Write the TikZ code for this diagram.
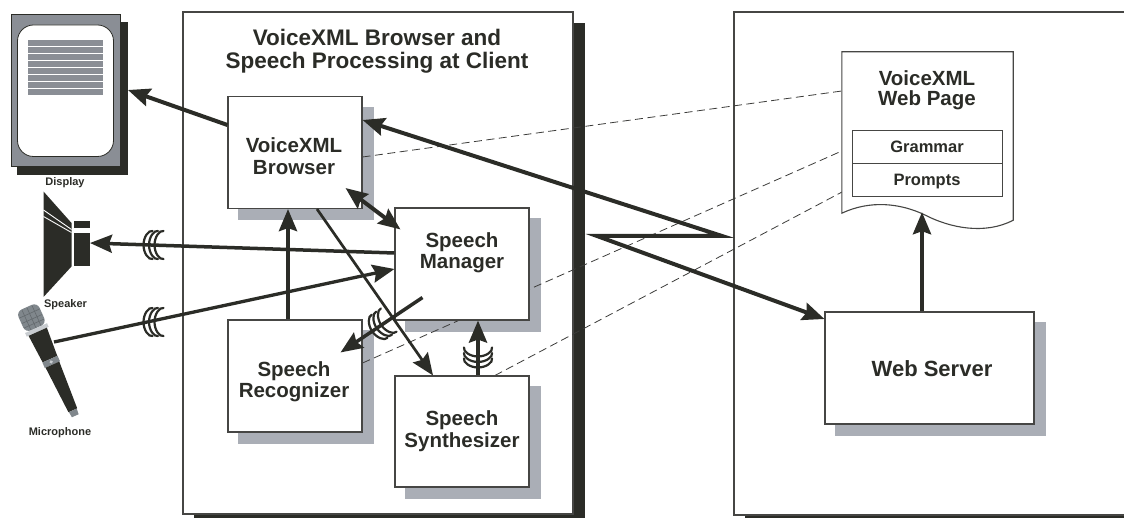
\documentclass[tikz,border=0pt]{standalone}
\usepackage{fontspec}
\setmainfont{Liberation Sans}
\usetikzlibrary{arrows.meta,calc}

\definecolor{ink}{RGB}{43,44,39}
\definecolor{rim}{RGB}{70,70,68}
\definecolor{boxshadow}{RGB}{170,174,182}
\definecolor{panel}{RGB}{138,142,149}
\definecolor{dashc}{RGB}{60,60,58}
\definecolor{micgray}{RGB}{128,135,140}
\definecolor{micgrid}{RGB}{100,106,110}
\definecolor{miclight}{RGB}{200,204,208}

\pgfdeclarelayer{back}
\pgfdeclarelayer{shadows}
\pgfdeclarelayer{dashes}
\pgfsetlayers{back,shadows,dashes,main}

% gray drop shadow behind a box node
\newcommand\castshadow[1]{%
  \begin{pgfonlayer}{shadows}
    \fill[boxshadow] ($(#1.south west)+(11,11)$) rectangle ($(#1.north east)+(11,11)$);
  \end{pgfonlayer}}

\begin{document}
\begin{tikzpicture}[x=1pt,y=-1pt,
  unit/.style={draw=rim, line width=1.1pt, fill=white, inner sep=0pt,
               minimum width=134pt, minimum height=112pt},
  caption/.style={align=center, text=ink, font=\fontsize{20.5}{21.5}\selectfont\bfseries},
  small/.style={text=ink, font=\fontsize{11}{12}\selectfont\bfseries},
  part/.style={draw=rim, line width=1pt, fill=white, inner sep=0pt,
               minimum width=150pt, minimum height=33.3pt, text height=11.5pt, text depth=0pt,
               text=ink, font=\fontsize{16.5}{17}\selectfont\bfseries},
  onehead/.style={-{Stealth[length=22pt,width=18pt,inset=3pt]}},
  twoheads/.style={{Stealth[length=22pt,width=18pt,inset=3pt]}-{Stealth[length=22pt,width=18pt,inset=3pt]}},
  flow/.style={draw=ink, line width=4pt},
  link/.style={draw=dashc, line width=0.8pt, dash pattern=on 8pt off 4.5pt},
  waves/.pic={\foreach \d in {-5.5,0,5.5}{%
      \draw[ink, line width=2.2pt, line cap=round]
        (\d+5,-14) .. controls (\d+1,-15) and (\d-4,-8) .. (\d-4,0)
        .. controls (\d-4,8) and (\d+1,15) .. (\d+5,14);}}
]
\useasboundingbox (0,0) rectangle (1124,518);

% ---------- client and server frames ----------
\begin{pgfonlayer}{back}
  \fill[ink] (194,23) rectangle (585,530);
  \node[draw=rim, line width=1.3pt, fill=white, inner sep=0pt,
        minimum width=390pt, minimum height=502pt] (client) at (378,263) {};
  \fill[ink] (745,26) rectangle (1160,530);
  \node[draw=rim, line width=1.3pt, fill=white, inner sep=0pt,
        minimum width=406pt, minimum height=503pt] (web) at (937,263.5) {};
\end{pgfonlayer}

\node[align=center, text=ink, font=\fontsize{22.5}{23.5}\selectfont\bfseries]
  (title) at (377,51) {VoiceXML Browser and\\Speech Processing at Client};

% ---------- processing units ----------
\node[unit] (browser) at (295,152.5) {};
\node[unit] (manager) at (462,264) {};
\node[unit] (recog) at (295,376) {};
\node[unit, minimum height=111pt] (synth) at (462,431.5) {};
\node[unit, minimum width=209pt] (server) at (929.5,368) {};
\castshadow{browser}
\castshadow{manager}
\castshadow{recog}
\castshadow{synth}
\castshadow{server}

\node[caption] (browsertxt) at (294,156) {VoiceXML\\Browser};
\node[caption] (managertxt) at (462,252.5) {Speech\\Manager};
\node[caption] (recogtxt) at (294,381.5) {Speech\\Recognizer};
\node[caption] (synthtxt) at (462,431) {Speech\\Synthesizer};
\node[text=ink, font=\fontsize{22}{23}\selectfont\bfseries] (servertxt) at (932,368.5) {Web Server};

% ---------- VoiceXML page ----------
\node[inner sep=0pt, minimum width=171pt, minimum height=168pt] (page) at (927.5,136) {};
\draw[rim, line width=1.1pt, fill=white]
  (page.north west) -- (page.north east) -- (page.south east)
  .. controls (985,235) and (950,228) .. (925,215)
  .. controls (900,203) and (870,200) .. ([yshift=7pt]page.south west) -- cycle;
\node[caption, font=\fontsize{20.5}{20}\selectfont\bfseries] (pagetxt) at (927,90.5) {VoiceXML\\Web Page};
\node[part] (grammar) at (927,146.7) {Grammar};
\node[part] (prompts) at (927,180) {Prompts};

% ---------- display ----------
\fill[ink] (17,22) rectangle (128,175);
\node[draw=ink, line width=0.8pt, fill=panel, inner sep=0pt,
      minimum width=109pt, minimum height=152pt] (display) at (65.5,90.5) {};
\draw[ink, line width=0.8pt, fill=white, rounded corners=16pt] (17.5,25) rectangle (113.5,156.5);
\foreach \k in {0,...,7} \fill[panel] (28,40+7*\k) rectangle (102.5,46+7*\k);
\node[small] (displaylbl) at (65,183) {Display};
\coordinate (screen) at (128,90);

% ---------- speaker ----------
\fill[ink] (43.5,191.5) -- (71.5,223) -- (71.5,266.5) -- (43.5,297) -- cycle;
\draw[white, line width=0.9pt] (43.5,210) -- (71.5,229.5);
\draw[white, line width=0.9pt] (43.5,216.5) -- (71.5,232.5);
\fill[ink] (74,221.5) rectangle (90,228.5);
\fill[ink] (74,233) rectangle (90,266);
\node[small] (speakerlbl) at (65.5,305) {Speaker};
\coordinate (spk) at (90,243);

% ---------- microphone ----------
\begin{scope}[shift={(32,319)}, rotate=-65.9]
  \fill[micgray, rounded corners=6pt] (-13,-11.5) rectangle (10,11.5);
  \foreach \u in {-6,0,5} \draw[micgrid, line width=0.6pt] (\u,-11) -- (\u,11);
  \foreach \v in {-5.5,0,5.5} \draw[micgrid, line width=0.6pt] (-12,\v) -- (10,\v);
  \fill[miclight] (10,-12) rectangle (14,12);
  \fill[ink] (14,-10) -- (44,-8) -- (44,8) -- (14,10) -- cycle;
  \fill[micgray] (44,-8.3) rectangle (50,8.3);
  \fill[miclight] (47,0) circle (1.8);
  \fill[ink] (50,-7.5) -- (100,-4.8) -- (100,4.8) -- (50,7.5) -- cycle;
  \fill[micgray] (100,-4.3) -- (106,-3.7) -- (106,3.7) -- (100,4.3) -- cycle;
\end{scope}
\node[small] (miclbl) at (60,433) {Microphone};
\coordinate (mic) at (54,342);

% ---------- dashed references to the page ----------
\begin{pgfonlayer}{dashes}
  \draw[link] ([yshift=-4.5pt]browser.east) -- ([yshift=45pt]page.west);
  \draw[link] ([yshift=13pt]recog.east) -- (grammar.west);
  \draw[link] ([xshift=33pt]synth.north) -- ([yshift=-7pt]prompts.west);
\end{pgfonlayer}

% ---------- connectors ----------
\coordinate (zigA) at (722,236);
\coordinate (zigB) at (597,236);
\draw[flow, onehead] ([yshift=27.5pt]browser.west) -- (screen);
\draw[flow, twoheads, miter limit=20] ([yshift=32.5pt]browser.east) -- (zigA) -- (zigB) -- ([yshift=49pt]server.west);
\draw[flow, twoheads] ([xshift=-17pt,yshift=21pt]browser.south east) -- ([xshift=6pt,yshift=-22pt]manager.north west);
\draw[flow, onehead] ([xshift=-7pt]recog.north) -- ([xshift=-7pt]browser.south);
\draw[flow, onehead, line width=2.7pt] ([xshift=22pt]browser.south) -- ([xshift=-29pt]synth.north);
\draw[flow, onehead, line width=3.5pt] ([yshift=11pt]manager.west) -- (spk);
\draw[flow, onehead, line width=3.3pt] (mic) -- ([yshift=-5pt]manager.west);
\draw[flow, onehead, line width=3.5pt] ([xshift=28pt,yshift=23pt]manager.south west) -- ([xshift=-22pt,yshift=-33pt]recog.north east);
\draw[flow, onehead] ([xshift=16pt]synth.north) -- ([xshift=16pt]manager.south);
\draw[flow, onehead] ([xshift=-7.5pt]server.north) -- ([xshift=-5.5pt,yshift=8pt]page.south);

\pic at (153,245) {waves};
\pic at (153,322) {waves};
\pic[rotate=34] at (380,326) {waves};
\pic[rotate=90] at (478,358) {waves};
\end{tikzpicture}
\end{document}
